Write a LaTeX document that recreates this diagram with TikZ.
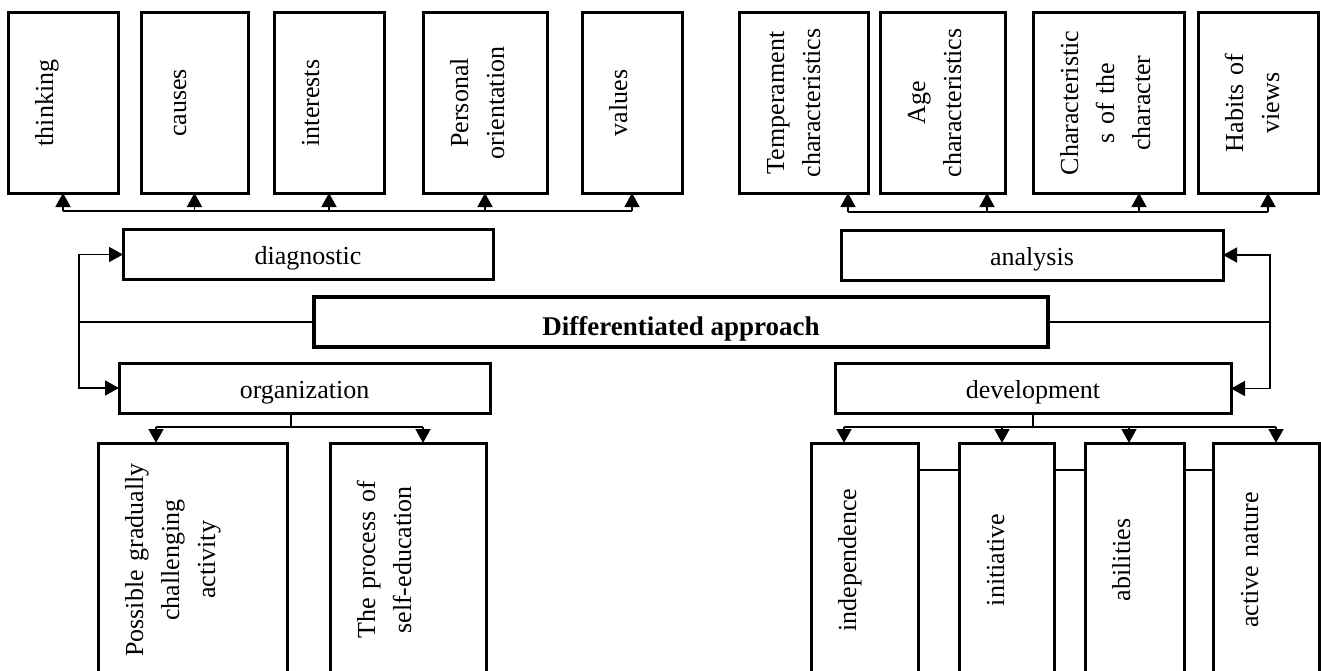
\documentclass[tikz,border=0pt]{standalone}
\usepackage{fontspec}
\setmainfont{Liberation Serif}
\usepackage{graphicx}
\usetikzlibrary{positioning, arrows.meta}

\newcommand{\rottext}[1]{\noindent\rotatebox{90}{\begin{tabular}{@{}c@{}}#1\end{tabular}}}

\tikzset{
    vbox/.style={draw, line width=3pt, outer sep=0pt, inner xsep=20pt, align=left,
        minimum height=180pt, font=\fontsize{26}{36}\selectfont},
    hbox/.style={draw, line width=3pt, outer sep=0pt, minimum height=50pt,
        text height=20pt, text depth=0pt, font=\fontsize{26}{31}\selectfont},
    wire/.style={line width=1.5pt},
    arr/.style={line width=1.5pt, -{Triangle[length=14pt,width=15pt]}}
}

\begin{document}
\begin{tikzpicture}[x=1pt, y=-1pt]
    \useasboundingbox (0,0) rectangle (1321,671);
    \clip (0,0) rectangle (1321,671);
    \fill[white] (0,0) rectangle (1321,671);

    \node[vbox, text width=70pt] (think) at (63,103) {\rottext{thinking}};
    \node[vbox, text width=67pt, right=23pt of think] (cause) {\rottext{causes}};
    \node[vbox, text width=70pt, right=26pt of cause] (inter) {\rottext{interests}};
    \node[vbox, text width=84pt, right=39pt of inter] (orient) {\rottext{Personal\\orientation}};
    \node[vbox, text width=60pt, right=35pt of orient] (value) {\rottext{values}};
    \node[vbox, text width=89pt, right=57pt of value] (temper) {\rottext{Temperament\\characteristics}};
    \node[vbox, text width=85pt, right=12pt of temper] (age) {\rottext{Age\\characteristics}};
    \node[vbox, text width=111pt, right=28pt of age] (charac) {\rottext{Characteristic\\s of the\\character}};
    \node[vbox, text width=80pt, right=14pt of charac] (habit) {\rottext{Habits of\\views}};

    \node[hbox, minimum width=370pt] (diag) at (308,254.5) {diagnostic};
    \node[hbox, minimum width=382pt] (anal) at (1032,255) {analysis};
    \node[hbox, minimum width=734pt, line width=4pt, text height=32pt, text depth=6pt,
        inner ysep=2pt, font=\fontsize{27}{32}\selectfont\bfseries] (diff) at (681,322) {Differentiated approach};
    \node[hbox, minimum width=371pt] (org) at (304.5,388) {organization};
    \node[hbox, minimum width=396pt] (devel) at (1033,388.5) {development};

    \node[vbox, minimum height=234pt, text width=149pt] (grad) at (192.5,560)
        {\rottext{Possible gradually\\challenging\\activity}};
    \node[vbox, minimum height=234pt, text width=116pt, right=43pt of grad] (self)
        {\rottext{The process of\\self-education}};
    \node[vbox, minimum height=234pt, text width=67pt] (indep) at (864.5,560) {\rottext{independence}};
    \node[vbox, minimum height=234pt, text width=55pt, right=41pt of indep] (initi) {\rottext{initiative}};
    \node[vbox, minimum height=234pt, text width=59pt, right=31pt of initi] (abil) {\rottext{abilities}};
    \node[vbox, minimum height=234pt, text width=66pt, right=29pt of abil] (activ) {\rottext{active nature}};

    \coordinate (busL) at (0,211);
    \coordinate (t1) at (848,212);
    \coordinate (t2) at (987,212);
    \coordinate (t3) at (1139,212);
    \coordinate (t4) at (1268,212);
    \coordinate (ob) at (291,427);
    \coordinate (o1) at (156,427);
    \coordinate (o2) at (423,427);
    \coordinate (d1) at (844,427);
    \coordinate (d2) at (1002,427);
    \coordinate (d3) at (1129,427);
    \coordinate (d4) at (1276,427);
    \coordinate (lp) at (79,0);
    \coordinate (rp) at (1270,0);
    \coordinate (mid) at (0,470);

    \draw[wire] (busL -| think) -- (busL -| value);
    \foreach \n in {think,cause,inter,orient,value}
        \draw[arr] (busL -| \n) -- (\n);
    \draw[wire] (t1) -- (t4);
    \draw[arr] (t1) -- (t1 |- temper.south);
    \draw[arr] (t2) -- (t2 |- age.south);
    \draw[arr] (t3) -- (t3 |- charac.south);
    \draw[arr] (t4) -- (t4 |- habit.south);

    \draw[wire] (diff.west) -- (diff.west -| lp);
    \draw[arr] (diff.west -| lp) |- (diag);
    \draw[arr] (diff.west -| lp) |- (org);
    \draw[wire] (diff.east) -- (diff.east -| rp);
    \draw[arr] (diff.east -| rp) |- (anal);
    \draw[arr] (diff.east -| rp) |- (devel);

    \draw[wire] (ob |- org.south) -- (ob);
    \draw[wire] (o1) -- (o2);
    \draw[arr] (o1) -- (o1 |- grad.north);
    \draw[arr] (o2) -- (o2 |- self.north);

    \draw[wire] (devel.south) -- (devel.south |- d1);
    \draw[wire] (d1) -- (d4);
    \draw[arr] (d1) -- (d1 |- indep.north);
    \draw[arr] (d2) -- (d2 |- initi.north);
    \draw[arr] (d3) -- (d3 |- abil.north);
    \draw[arr] (d4) -- (d4 |- activ.north);

    \draw[wire] (indep.east |- mid) -- (initi.west |- mid);
    \draw[wire] (initi.east |- mid) -- (abil.west |- mid);
    \draw[wire] (abil.east |- mid) -- (activ.west |- mid);
\end{tikzpicture}
\end{document}
